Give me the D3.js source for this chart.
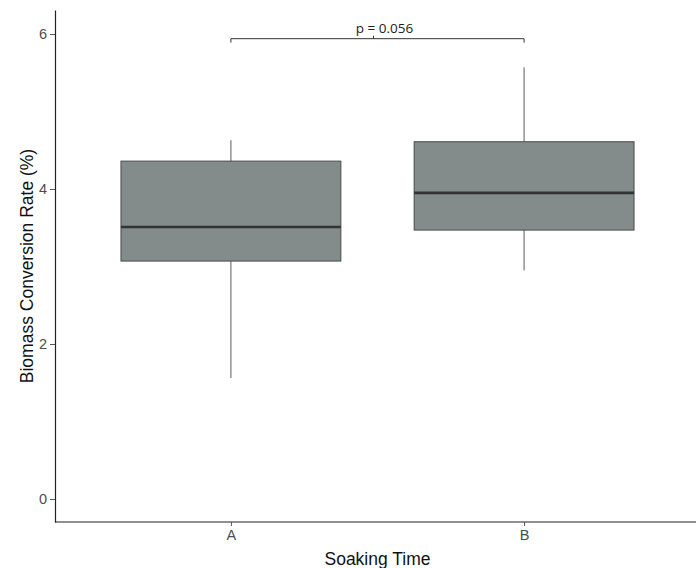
<!DOCTYPE html>
<html>
<head>
<meta charset="utf-8">
<script src="https://cdn.jsdelivr.net/npm/d3@7"></script>
<style>
  body { margin: 0; background: #fff; }
  svg { display: block; }
</style>
</head>
<body>
<div id="chart"></div>
<script>
// box plot values
const groups = ['A', 'B'];
const whiskerLow = [1.56, 2.95];
const q1 = [3.07, 3.47];
const median = [3.51, 3.95];
const q3 = [4.36, 4.61];
const whiskerHigh = [4.63, 5.57];
const yTicks = [0, 2, 4, 6];
const pLabel = 'p = 0.056';
const bracketY = 5.94;

const width = 696, height = 568;
const margin = {top: 10, right: -4, bottom: 46, left: 55};

const svg = d3.select('#chart').append('svg')
    .attr('width', width)
    .attr('height', height);

// ggplot style discrete expansion: 0.6 units each side
const xLin = d3.scaleLinear().domain([0.4, groups.length + 0.6]).range([margin.left, width - margin.right]);
const scaleX = (g) => xLin(groups.indexOf(g) + 1);
const boxW = xLin(1.75) - xLin(1);
const scaleY = d3.scaleLinear().domain([-0.297, 6.31]).range([height - margin.bottom, margin.top]);

const rows = groups.map((g, i) => ({g, lo: whiskerLow[i], q1: q1[i], med: median[i], q3: q3[i], hi: whiskerHigh[i]}));

const plot = svg.append('g');

// whiskers
plot.selectAll('.whisk-up').data(rows).enter().append('line')
    .attr('x1', (d) => scaleX(d.g)).attr('x2', (d) => scaleX(d.g))
    .attr('y1', (d) => scaleY(d.q3)).attr('y2', (d) => scaleY(d.hi))
    .attr('stroke', '#5a5a5a').attr('stroke-width', 1);
plot.selectAll('.whisk-dn').data(rows).enter().append('line')
    .attr('x1', (d) => scaleX(d.g)).attr('x2', (d) => scaleX(d.g))
    .attr('y1', (d) => scaleY(d.q1)).attr('y2', (d) => scaleY(d.lo))
    .attr('stroke', '#5a5a5a').attr('stroke-width', 1);

// boxes
plot.selectAll('.box').data(rows).enter().append('rect')
    .attr('x', (d) => scaleX(d.g) - boxW / 2)
    .attr('width', boxW)
    .attr('y', (d) => scaleY(d.q3))
    .attr('height', (d) => scaleY(d.q1) - scaleY(d.q3))
    .attr('fill', '#838B8B')
    .attr('stroke', '#4a4a4a')
    .attr('stroke-width', 1);

// medians
plot.selectAll('.med').data(rows).enter().append('line')
    .attr('x1', (d) => scaleX(d.g) - boxW / 2).attr('x2', (d) => scaleX(d.g) + boxW / 2)
    .attr('y1', (d) => scaleY(d.med)).attr('y2', (d) => scaleY(d.med))
    .attr('stroke', '#333333').attr('stroke-width', 2.6);

// axes
const yAxis = svg.append('g')
    .attr('transform', 'translate(' + margin.left + ',0)')
    .call(d3.axisLeft(scaleY).tickValues(yTicks).tickFormat(d3.format('d'))
        .tickSize(5).tickPadding(3).tickSizeOuter(0));
const xAxis = svg.append('g')
    .attr('transform', 'translate(0,' + (height - margin.bottom) + ')')
    .call(d3.axisBottom(xLin).tickValues(groups.map((g, i) => i + 1)).tickFormat((v) => groups[v - 1])
        .tickSize(4).tickPadding(4).tickSizeOuter(0));
xAxis.select('.domain').attr('d', 'M' + margin.left + ',0H' + width);
[yAxis, xAxis].forEach((ax) => {
  ax.select('.domain').attr('stroke', '#222').attr('stroke-width', 1.2);
  ax.selectAll('.tick line').attr('stroke', '#555');
  ax.selectAll('.tick text').attr('fill', '#4d4d4d')
      .attr('font-family', '"Liberation Sans", Arial, sans-serif').attr('font-size', 14.5);
});

// axis titles
svg.append('text')
    .attr('x', xLin(1.5)).attr('y', 565)
    .attr('text-anchor', 'middle')
    .attr('font-family', '"Liberation Sans", Arial, sans-serif').attr('font-size', 17.5)
    .attr('fill', '#111')
    .text('Soaking Time');
svg.append('text')
    .attr('transform', 'translate(33,' + ((margin.top + height - margin.bottom) / 2) + ') rotate(-90)')
    .attr('text-anchor', 'middle')
    .attr('font-family', '"Liberation Sans", Arial, sans-serif').attr('font-size', 17.5)
    .attr('fill', '#111')
    .text('Biomass Conversion Rate (%)');

// significance bracket
const by = scaleY(bracketY);
const bracket = d3.path();
bracket.moveTo(scaleX('A'), by + 4);
bracket.lineTo(scaleX('A'), by);
bracket.lineTo(scaleX('B'), by);
bracket.lineTo(scaleX('B'), by + 4);
svg.append('path').attr('d', bracket.toString())
    .attr('fill', 'none').attr('stroke', '#333').attr('stroke-width', 1);
const mid = (scaleX('A') + scaleX('B')) / 2;
svg.append('line')
    .attr('x1', mid - 4).attr('x2', mid - 4).attr('y1', by).attr('y2', by - 3)
    .attr('stroke', '#333');
svg.append('text')
    .attr('x', mid + 7).attr('y', by - 6)
    .attr('text-anchor', 'middle')
    .attr('font-family', '"Open Sans", "DejaVu Sans", sans-serif').attr('font-size', 13.5)
    .attr('fill', '#222')
    .text(pLabel);
</script>
</body>
</html>
